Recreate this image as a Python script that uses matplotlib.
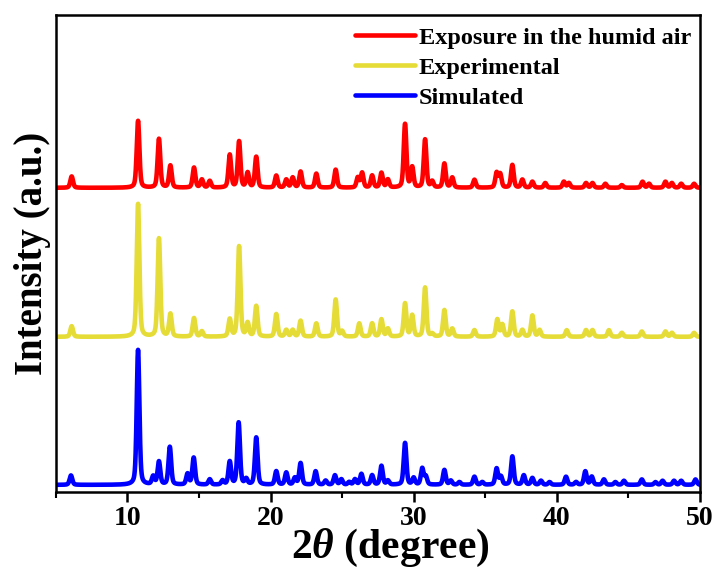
import numpy as np
import matplotlib
matplotlib.use("Agg")
import matplotlib.pyplot as plt
from matplotlib.ticker import MultipleLocator

# =========================
# 峰位 (2θ) 与相对强度 (%)
sim_pos = [6.05, 10.74, 11.8, 12.2, 12.96, 14.2, 14.63, 15.75, 16.65, 17.15, 17.77,
           18.3, 19.0, 20.4, 21.1, 21.7, 22.1, 23.15, 23.85, 24.5, 24.95, 25.5, 25.9,
           26.35, 27.1, 27.75, 28.2, 29.4, 30.0, 30.6, 30.85, 32.15, 32.6, 33.2, 34.25,
           34.8, 35.8, 36.1, 36.9, 37.7, 38.3, 38.9, 39.5, 40.65, 41.35, 42.0, 42.45,
           43.3, 44.1, 44.7, 45.95, 46.9, 47.4, 48.2, 48.7, 49.7]
sim_int = [7, 100, 6, 17, 28, 8, 20, 4, 3, 17, 46,
           4, 35, 10, 9, 5, 16, 10, 3, 7, 4, 2, 4,
           8, 7, 14, 3, 31, 5, 12, 6, 11, 3, 2, 6,
           2, 12, 6, 21, 7, 5, 3, 2, 6, 2, 10, 6,
           4, 2, 3, 4, 2, 3, 3, 3, 4]

exp_pos = [6.1, 10.74, 12.2, 13.0, 14.65, 15.2, 17.15, 17.8, 18.4, 19.0, 20.4,
           21.1, 21.55, 22.1, 23.2, 24.55, 25.0, 26.2, 27.1, 27.75, 28.2, 29.4,
           29.9, 30.8, 31.3, 32.15, 32.7, 34.25, 35.85, 36.2, 36.9, 37.6, 38.3,
           38.8, 40.7, 42.05, 42.5, 43.65, 44.55, 45.95, 47.6, 48.05, 49.6]
exp_int = [8, 100, 74, 17, 14, 4, 13, 68, 10, 23, 17,
           5, 5, 12, 10, 28, 4, 10, 10, 13, 6, 25,
           16, 37, 2, 20, 6, 5, 13, 9, 19, 5, 16,
           5, 5, 5, 5, 5, 3, 4, 4, 3, 3]

hum_pos = [6.1, 10.74, 12.2, 13.0, 14.65, 15.2, 15.75, 17.15, 17.8, 18.4, 19.0,
           20.4, 21.1, 21.55, 22.1, 23.2, 24.55, 26.1, 26.4, 27.1, 27.75, 28.2,
           29.4, 29.9, 30.8, 31.3, 32.15, 32.7, 34.25, 35.8, 36.05, 36.9, 37.6,
           38.3, 39.2, 40.5, 40.85, 42.05, 42.5, 43.4, 44.55, 46.0, 46.45, 47.6,
           48.05, 48.7, 49.6]
hum_int = [17, 100, 73, 33, 30, 12, 10, 49, 69, 22, 46,
           18, 12, 15, 24, 21, 27, 15, 22, 18, 22, 12,
           95, 30, 72, 9, 36, 15, 12, 22, 20, 34, 12,
           9, 7, 9, 7, 7, 7, 6, 4, 9, 6, 9,
           7, 6, 6]

labels = ["Exposure in the humid air", "Experimental", "Simulated"]
colors = ["#ff0000", "#e6dc37", "#0000ff"]

# 纵向偏移与缩放 (绘图单位)
offsets = [304, 155, 7]
scales = [67, 133, 135]

plt.rcParams["font.family"] = ["Liberation Serif", "DejaVu Serif"]
plt.rcParams["font.weight"] = "bold"
plt.rcParams["mathtext.fontset"] = "custom"
plt.rcParams["mathtext.rm"] = "Liberation Serif:bold"
plt.rcParams["mathtext.it"] = "Liberation Serif:italic:bold"


def profile(x, pos, inten, fwhm=0.22, eta=0.4):
    # pseudo-Voigt 峰形
    y = np.zeros_like(x)
    for p, h in zip(pos, inten):
        g = np.exp(-4 * np.log(2) * (x - p) ** 2 / fwhm ** 2)
        l = 1.0 / (1 + 4 * (x - p) ** 2 / fwhm ** 2)
        y += h * (eta * l + (1 - eta) * g)
    return y / 100.0


x = np.arange(5.0, 50.001, 0.01)

fig = plt.figure(figsize=(7.17, 5.68), dpi=100)
ax = fig.add_axes([0.078, 0.134, 0.898, 0.840])

series = [(hum_pos, hum_int), (exp_pos, exp_int), (sim_pos, sim_int)]
for (pos, inten), lab, c, off, sc in zip(series, labels, colors, offsets, scales):
    y = profile(x, pos, inten)
    y = y / y.max()
    ax.plot(x, off + sc * y, color=c, lw=3.3, label=lab, solid_capstyle="round")

ax.set_xlim(5, 50)
ax.set_ylim(0, 477)
ax.set_yticks([])
ax.xaxis.set_major_locator(MultipleLocator(10))
ax.xaxis.set_minor_locator(MultipleLocator(5))
ax.tick_params(axis="x", which="major", direction="out", length=7, width=1.8,
               labelsize=20, pad=3)
ax.tick_params(axis="x", which="minor", direction="out", length=4, width=1.5)
for lab in ax.get_xticklabels():
    lab.set_fontweight("bold")
for s in ax.spines.values():
    s.set_linewidth(1.8)

ax.set_xlabel(r"2$\theta$ (degree)", fontsize=30, fontweight="bold")
ax.xaxis.set_label_coords(0.519, -0.117)
ax.xaxis.label.set_verticalalignment("center")
ax.set_ylabel("Intensity (a.u.)", fontsize=28, fontweight="bold")
ax.yaxis.set_label_coords(-0.037, 0.5)
ax.yaxis.label.set_verticalalignment("center")

ax.legend(loc="upper right", frameon=False, fontsize=17.5, handlelength=2.45,
          handletextpad=0.15, labelspacing=0.33, borderaxespad=0.1,
          bbox_to_anchor=(1.005, 1.0))

fig.savefig("out.png", dpi=100)
